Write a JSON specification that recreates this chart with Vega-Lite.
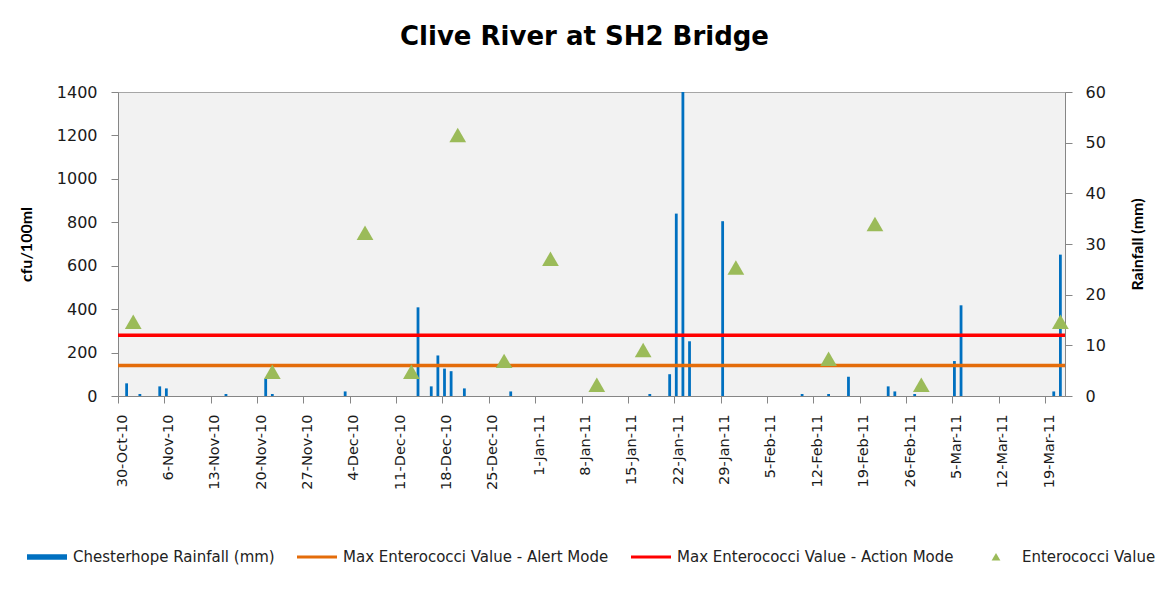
{
  "$schema": "https://vega.github.io/schema/vega-lite/v6.json",
  "width": 947,
  "height": 304,
  "autosize": {"type": "none"},
  "padding": {"left": 118, "top": 92, "right": 101, "bottom": 199},
  "background": "white",
  "title": {
    "text": "Clive River at  SH2 Bridge",
    "font": "DejaVu Sans",
    "fontSize": 26,
    "fontWeight": "bold",
    "color": "#000000",
    "anchor": "middle",
    "baseline": "alphabetic",
    "offset": 13,
    "dx": -7
  },
  "config": {
    "view": {"fill": "#f2f2f2", "stroke": "#a6a6a6", "strokeWidth": 1},
    "axis": {
      "domainColor": "#868686",
      "tickColor": "#868686",
      "grid": false,
      "tickSize": 7,
      "labelFont": "DejaVu Sans",
      "labelColor": "#1a1a1a",
      "titleFont": "Lato",
      "titleFontWeight": "bold",
      "titleFontSize": 16,
      "titleColor": "#000000"
    },
    "legend": {
      "orient": "none",
      "legendX": -91,
      "legendY": 445,
      "direction": "horizontal",
      "symbolSize": 1600,
      "symbolStrokeWidth": 0,
      "labelFont": "DejaVu Sans",
      "labelFontSize": 15,
      "labelColor": "#222222",
      "labelOffset": 6,
      "columnPadding": 22,
      "padding": 0,
      "labelLimit": 400
    }
  },
  "datasets": {
    "rain": [
      {"date": "2010-10-31", "rain_mm": 2.5},
      {"date": "2010-11-02", "rain_mm": 0.4},
      {"date": "2010-11-05", "rain_mm": 1.9},
      {"date": "2010-11-06", "rain_mm": 1.5},
      {"date": "2010-11-15", "rain_mm": 0.4},
      {"date": "2010-11-21", "rain_mm": 3.4},
      {"date": "2010-11-22", "rain_mm": 0.4},
      {"date": "2010-12-03", "rain_mm": 0.9},
      {"date": "2010-12-14", "rain_mm": 17.5},
      {"date": "2010-12-16", "rain_mm": 1.9},
      {"date": "2010-12-17", "rain_mm": 8.0},
      {"date": "2010-12-18", "rain_mm": 5.4},
      {"date": "2010-12-19", "rain_mm": 4.9},
      {"date": "2010-12-21", "rain_mm": 1.5},
      {"date": "2010-12-28", "rain_mm": 0.9},
      {"date": "2011-01-18", "rain_mm": 0.4},
      {"date": "2011-01-21", "rain_mm": 4.3},
      {"date": "2011-01-22", "rain_mm": 36.0},
      {"date": "2011-01-23", "rain_mm": 66.0},
      {"date": "2011-01-24", "rain_mm": 10.8},
      {"date": "2011-01-29", "rain_mm": 34.5},
      {"date": "2011-02-10", "rain_mm": 0.4},
      {"date": "2011-02-14", "rain_mm": 0.4},
      {"date": "2011-02-17", "rain_mm": 3.8},
      {"date": "2011-02-23", "rain_mm": 1.9},
      {"date": "2011-02-24", "rain_mm": 0.9},
      {"date": "2011-02-27", "rain_mm": 0.4},
      {"date": "2011-03-05", "rain_mm": 6.9},
      {"date": "2011-03-06", "rain_mm": 17.9},
      {"date": "2011-03-20", "rain_mm": 0.9},
      {"date": "2011-03-21", "rain_mm": 27.9}
    ],
    "entero": [
      {"date": "2010-11-01", "value": 340},
      {"date": "2010-11-22", "value": 110},
      {"date": "2010-12-06", "value": 750},
      {"date": "2010-12-13", "value": 110},
      {"date": "2010-12-20", "value": 1200},
      {"date": "2010-12-27", "value": 160},
      {"date": "2011-01-03", "value": 630},
      {"date": "2011-01-10", "value": 50},
      {"date": "2011-01-17", "value": 210},
      {"date": "2011-01-31", "value": 590},
      {"date": "2011-02-14", "value": 170},
      {"date": "2011-02-21", "value": 790},
      {"date": "2011-02-28", "value": 50},
      {"date": "2011-03-21", "value": 340}
    ],
    "limits": [
      {"series": "Max Enterococci Value - Alert Mode", "value": 140},
      {"series": "Max Enterococci Value - Action Mode", "value": 280}
    ]
  },
  "layer": [
    {
      "data": {"name": "rain"},
      "mark": {"type": "bar", "color": "#0070C0", "size": 2.8, "clip": true, "xOffset": 2},
      "encoding": {
        "x": {
          "field": "date",
          "type": "temporal",
          "scale": {
            "type": "utc",
            "domain": [
              {"year": 2010, "month": "oct", "date": 30, "utc": true},
              {"year": 2011, "month": "mar", "date": 22, "utc": true}
            ],
            "nice": false,
            "padding": 0
          },
          "axis": {
            "orient": "bottom",
            "title": null,
            "format": "%-d-%b-%y",
            "labelAngle": 270,
            "labelFontSize": 14.5,
            "labelPadding": 11,
            "labelOffset": 4,
            "labelOverlap": false,
            "values": [
              {"year": 2010, "month": "oct", "date": 30, "utc": true},
              {"year": 2010, "month": "nov", "date": 6, "utc": true},
              {"year": 2010, "month": "nov", "date": 13, "utc": true},
              {"year": 2010, "month": "nov", "date": 20, "utc": true},
              {"year": 2010, "month": "nov", "date": 27, "utc": true},
              {"year": 2010, "month": "dec", "date": 4, "utc": true},
              {"year": 2010, "month": "dec", "date": 11, "utc": true},
              {"year": 2010, "month": "dec", "date": 18, "utc": true},
              {"year": 2010, "month": "dec", "date": 25, "utc": true},
              {"year": 2011, "month": "jan", "date": 1, "utc": true},
              {"year": 2011, "month": "jan", "date": 8, "utc": true},
              {"year": 2011, "month": "jan", "date": 15, "utc": true},
              {"year": 2011, "month": "jan", "date": 22, "utc": true},
              {"year": 2011, "month": "jan", "date": 29, "utc": true},
              {"year": 2011, "month": "feb", "date": 5, "utc": true},
              {"year": 2011, "month": "feb", "date": 12, "utc": true},
              {"year": 2011, "month": "feb", "date": 19, "utc": true},
              {"year": 2011, "month": "feb", "date": 26, "utc": true},
              {"year": 2011, "month": "mar", "date": 5, "utc": true},
              {"year": 2011, "month": "mar", "date": 12, "utc": true},
              {"year": 2011, "month": "mar", "date": 19, "utc": true}
            ]
          }
        },
        "y": {
          "field": "rain_mm",
          "type": "quantitative",
          "scale": {"domain": [0, 60], "nice": false, "zero": true},
          "axis": {
            "orient": "right",
            "title": "Rainfall (mm)",
            "titleAngle": 270,
            "titleBaseline": "top",
            "titlePadding": 24,
            "values": [0, 10, 20, 30, 40, 50, 60],
            "format": "d",
            "labelFontSize": 16,
            "labelPadding": 13
          }
        }
      }
    },
    {
      "layer": [
        {
          "data": {"name": "limits"},
          "mark": {"type": "rule", "strokeWidth": 3.5},
          "encoding": {
            "y": {
              "field": "value",
              "type": "quantitative",
              "scale": {"domain": [0, 1400], "nice": false},
              "axis": {
                "orient": "left",
                "title": "cfu/100ml",
                "titlePadding": 22,
                "values": [0, 200, 400, 600, 800, 1000, 1200, 1400],
                "format": "d",
                "labelFontSize": 16,
                "labelPadding": 14
              }
            },
            "stroke": {
              "field": "series",
              "type": "nominal",
              "scale": {
                "domain": ["Max Enterococci Value - Alert Mode", "Max Enterococci Value - Action Mode"],
                "range": ["#E46C0A", "#FF0000"]
              },
              "legend": null
            }
          }
        },
        {
          "data": {"name": "entero"},
          "mark": {"type": "point", "filled": true, "opacity": 1, "size": 5776, "xOffset": 2},
          "encoding": {
            "x": {"field": "date", "type": "temporal"},
            "y": {"field": "value", "type": "quantitative"},
            "color": {
              "datum": "Enterococci Value",
              "type": "nominal",
              "scale": {
                "domain": ["Chesterhope Rainfall (mm)", "Max Enterococci Value - Alert Mode", "Max Enterococci Value - Action Mode", "Enterococci Value"],
                "range": ["#0070C0", "#E46C0A", "#FF0000", "#9BBB59"]
              },
              "legend": {"title": null}
            },
            "shape": {
              "datum": "Enterococci Value",
              "type": "nominal",
              "scale": {
                "domain": ["Chesterhope Rainfall (mm)", "Max Enterococci Value - Alert Mode", "Max Enterococci Value - Action Mode", "Enterococci Value"],
                "range": ["M-1,-0.14H1V0.14H-1Z", "M-1,-0.08H1V0.08H-1Z", "M-1,-0.08H1V0.08H-1Z", "M0,-0.2L0.22,0.18H-0.22Z"]
              },
              "legend": {"title": null}
            }
          }
        }
      ]
    }
  ],
  "resolve": {"scale": {"y": "independent"}}
}
